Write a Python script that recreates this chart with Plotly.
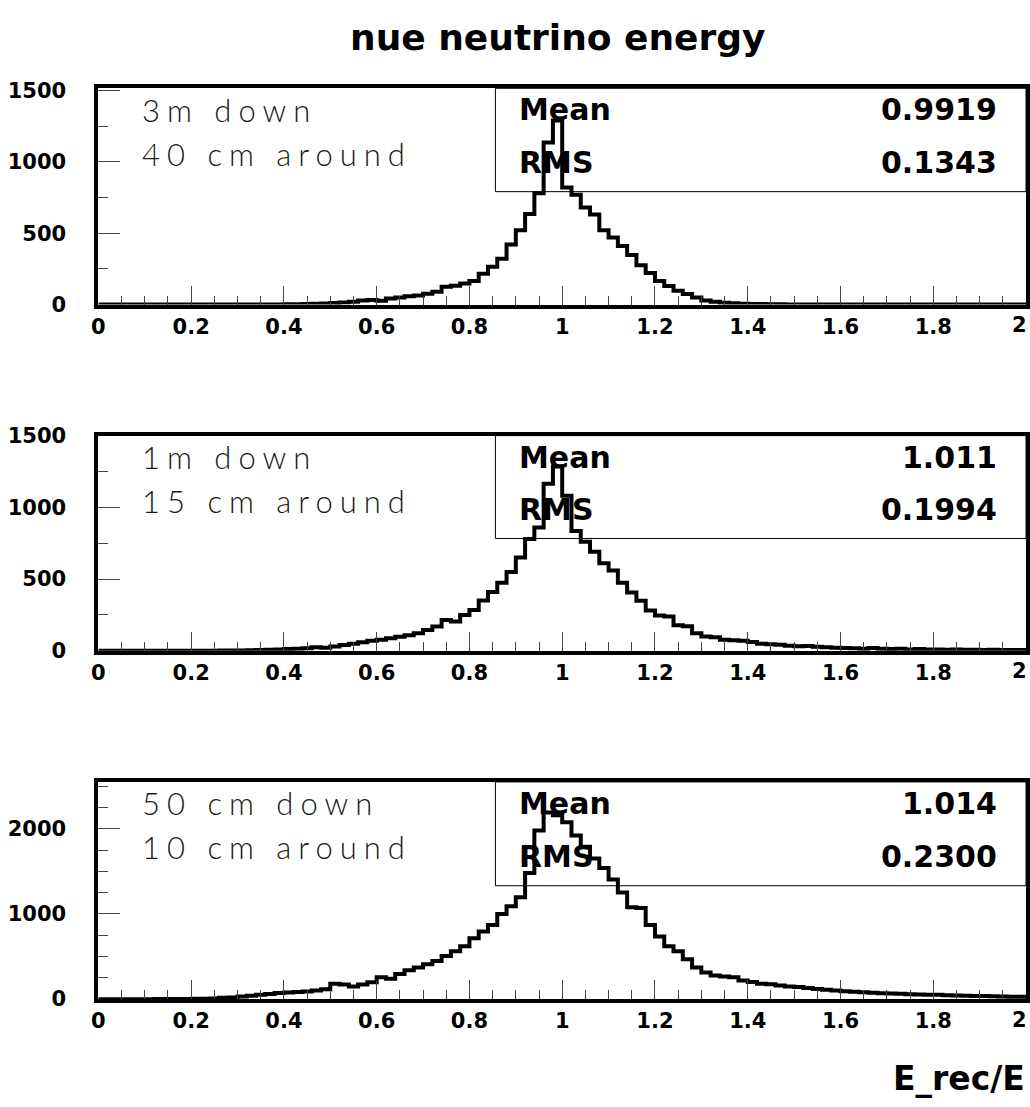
import numpy as np
import plotly.graph_objects as go

# ---------------- data ----------------
BIN_EDGES = np.round(np.arange(101) * 0.02, 2)   # 100 bins of width 0.02 on [0, 2]

counts_3m = [0]*18 + [
    1, 1, 2, 2, 3, 5, 7, 10, 14, 20,
    28, 32, 27, 42, 50, 58, 64, 75, 90, 125,
    132, 148, 165, 215, 265, 320, 420, 520, 635, 780,
    1135, 1290, 820, 770, 680, 630, 520, 470, 410, 347,
    275, 221, 164, 130, 96, 73, 50, 28, 20, 13,
    9, 6, 4, 3, 2, 2, 1, 1, 1] + [0]*23

counts_1m = [0]*10 + [
    1, 1, 1, 2, 2, 3, 4, 6, 8, 10,
    12, 15, 18, 25, 22, 30, 40, 50, 60, 70,
    78, 88, 98, 108, 122, 145, 170, 215, 205, 250,
    285, 350, 410, 475, 550, 650, 780, 860, 1165, 1285,
    1080, 836, 760, 690, 610, 560, 474, 406, 349, 281,
    247, 240, 179, 172, 122, 100, 95, 77, 74, 70,
    62, 50, 46, 42, 36, 32, 33, 28, 25, 22,
    20, 18, 15, 20, 14, 12, 15, 10, 12, 10,
    10, 8, 9, 7, 8, 6, 7, 5, 6, 5]

counts_50cm = [0]*6 + [
    1, 1, 2, 2, 3, 5, 8, 15, 20, 30,
    40, 50, 60, 72, 78, 84, 90, 100, 115, 180,
    172, 149, 172, 199, 256, 238, 295, 340, 371, 410,
    448, 505, 563, 620, 716, 793, 870, 1000, 1090, 1195,
    1482, 1980, 2190, 2160, 2076, 1922, 1789, 1650, 1540, 1405,
    1252, 1080, 1070, 870, 735, 620, 563, 467, 371, 314,
    276, 265, 256, 218, 200, 180, 175, 160, 149, 141,
    130, 120, 110, 100, 92, 88, 82, 76, 70, 66,
    62, 58, 55, 52, 50, 46, 43, 41, 38, 36,
    33, 31, 29, 27]

labels_line1 = ["3m down", "1m down", "50 cm down"]
labels_line2 = ["40 cm around", "15 cm around", "10 cm around"]
mean_values = ["0.9919", "1.011", "1.014"]
rms_values = ["0.1343", "0.1994", "0.2300"]
y_max = [1515, 1500, 2550]
y_dtick = [500, 500, 1000]
x_last_label = "2"

TITLE = "nue neutrino energy"
X_TITLE = "E_rec/E"

# ---------------- layout geometry (pixels) ----------------
W, H = 1030, 1107
FX0, FX1 = 92, 1026
tops = [78, 433, 787]
bots = [299, 653, 1009]

def px(x):
    return x / W

def py(y):
    return 1 - y / H

series = [counts_3m, counts_1m, counts_50cm]

fig = go.Figure()
TICK_FONT = dict(family="DejaVu Sans", size=21, color="black", weight="bold")
STAT_FONT = dict(family="DejaVu Sans", size=30, color="black", weight="bold")
LABEL_FONT = dict(family="Lato", size=31, color="#1a1a1a", weight=300)

layout = {}
for i, vals in enumerate(series):
    n = "" if i == 0 else str(i + 1)
    fig.add_trace(go.Scatter(
        x=BIN_EDGES, y=list(vals) + [vals[-1]],
        mode="lines", line=dict(shape="hv", color="black", width=4),
        xaxis="x" + n, yaxis="y" + n, showlegend=False, hoverinfo="skip"))
    layout["xaxis" + n] = dict(
        domain=[px(FX0), px(FX1)], range=[0, 2], anchor="y" + n,
        showline=True, mirror=True, linewidth=4, linecolor="black",
        ticks="inside", ticklen=19, tickwidth=1, tickcolor="#444",
        tick0=0, dtick=0.2,
        minor=dict(dtick=0.05, ticklen=9, tickwidth=1, tickcolor="#444", ticks="inside"),
        showgrid=False, zeroline=False, tickfont=TICK_FONT,
        ticklabelstandoff=0, fixedrange=True)
    layout["yaxis" + n] = dict(
        domain=[py(bots[i]), py(tops[i])], range=[0, y_max[i]], anchor="x" + n,
        showline=True, mirror=True, linewidth=4, linecolor="black",
        ticks="inside", ticklen=22, tickwidth=1, tickcolor="#444",
        tick0=0, dtick=y_dtick[i],
        minor=dict(dtick=250, ticklen=10, tickwidth=1, tickcolor="#444", ticks="inside"),
        showgrid=False, zeroline=False, tickfont=TICK_FONT,
        ticklabelstandoff=24, fixedrange=True)

shapes = []
annotations = []
for i in range(3):
    n = "" if i == 0 else str(i + 1)
    shapes.append(dict(type="rect", xref="x" + n + " domain", yref="y" + n + " domain",
                       x0=0.428, x1=1, y0=0.522, y1=1,
                       line=dict(color="black", width=1), fillcolor="rgba(0,0,0,0)"))
    t = tops[i]
    b = bots[i]
    annotations += [
        dict(text="Mean", x=px(513), y=py(t + 22), xref="paper", yref="paper",
             xanchor="left", yanchor="middle", showarrow=False, font=STAT_FONT),
        dict(text=mean_values[i], x=px(999), y=py(t + 22), xref="paper", yref="paper",
             xanchor="right", yanchor="middle", showarrow=False, font=STAT_FONT),
        dict(text="RMS", x=px(513), y=py(t + 76), xref="paper", yref="paper",
             xanchor="left", yanchor="middle", showarrow=False, font=STAT_FONT),
        dict(text=rms_values[i], x=px(999), y=py(t + 76), xref="paper", yref="paper",
             xanchor="right", yanchor="middle", showarrow=False, font=STAT_FONT),
        dict(text='<span style="letter-spacing:7px">' + labels_line1[i] + "</span>",
             x=px(134), y=py(t + 22), xref="paper", yref="paper",
             xanchor="left", yanchor="middle", showarrow=False, font=LABEL_FONT),
        dict(text='<span style="letter-spacing:7px">' + labels_line2[i] + "</span>",
             x=px(134), y=py(t + 67), xref="paper", yref="paper",
             xanchor="left", yanchor="middle", showarrow=False, font=LABEL_FONT),
        # last x tick label, kept inside the page edge as in the reference
        dict(text=x_last_label, x=px(1029), y=py(b + 21), xref="paper", yref="paper",
             xanchor="right", yanchor="middle", showarrow=False, font=TICK_FONT),
    ]

annotations.append(dict(text=TITLE, x=px(555), y=py(26), xref="paper", yref="paper",
                        xanchor="center", yanchor="middle", showarrow=False,
                        font=dict(family="DejaVu Sans", size=36, color="black", weight="bold")))
annotations.append(dict(text=X_TITLE, x=px(1027), y=py(1090), xref="paper", yref="paper",
                        xanchor="right", yanchor="middle", showarrow=False,
                        font=dict(family="DejaVu Sans", size=33, color="black", weight="bold")))

fig.update_layout(
    width=W, height=H, margin=dict(l=0, r=0, t=0, b=0),
    paper_bgcolor="white", plot_bgcolor="white",
    shapes=shapes, annotations=annotations, **layout)

fig.write_html("out.html", config={"displayModeBar": False})
